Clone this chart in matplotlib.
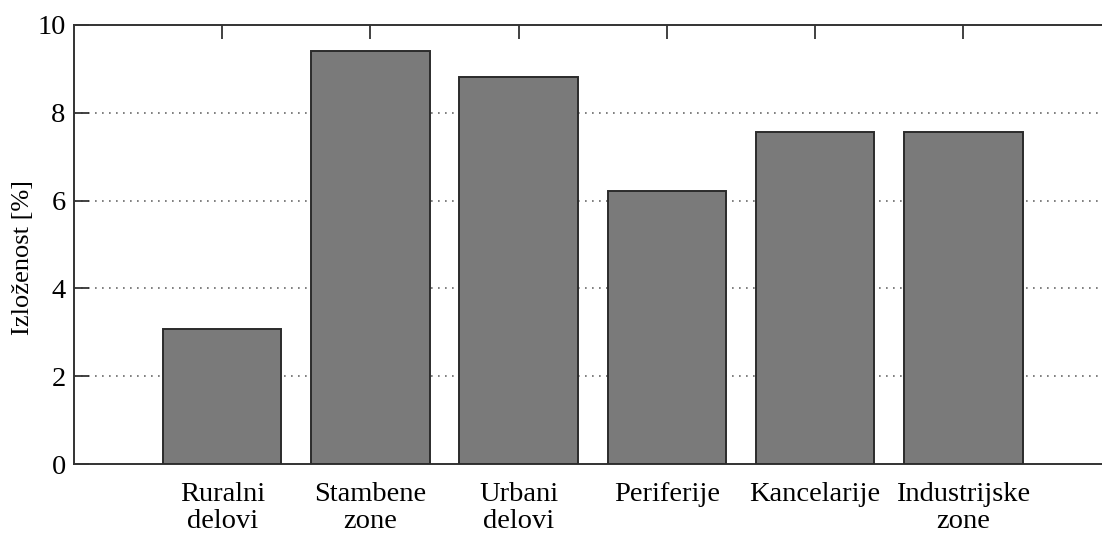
import numpy as np
import matplotlib
matplotlib.use("Agg")
import matplotlib.pyplot as plt

# podaci
kategorije = ["Ruralni\ndelovi", "Stambene\nzone", "Urbani\ndelovi",
              "Periferije", "Kancelarije", "Industrijske\nzone"]
vrednosti = [3.08, 9.41, 8.81, 6.22, 7.56, 7.56]
y_ticks = [0, 2, 4, 6, 8, 10]

plt.rcParams['font.family'] = ['Liberation Serif', 'DejaVu Serif']

fig = plt.figure(figsize=(11.02, 5.35), dpi=100)
# desna ivica ose izlazi malo van slike (kao u originalu)
ax = fig.add_axes([74/1102, (535-464)/535, (1111.5-74)/1102, (464-25)/535])

x = np.arange(1, len(vrednosti)+1)
ax.bar(x, vrednosti, width=0.8, color='#7a7a7a', edgecolor='#2b2b2b',
       linewidth=1.4, zorder=3)

ax.set_xlim(0, 7)
ax.set_ylim(0, 10)
ax.set_yticks(y_ticks)
ax.set_yticklabels([str(v) for v in y_ticks], fontsize=20.5)
ax.set_xticks(x)
ax.set_xticklabels(kategorije, fontsize=20.5, linespacing=1.1)

# mreza
for v in y_ticks[1:-1]:
    ax.axhline(v, color='#6a6a6a', linestyle=(0, (1, 3.2)), linewidth=1.2, zorder=1)

ax.tick_params(axis='y', direction='in', length=11, width=1.3, color='#333333',
               left=True, right=False, pad=6)
ax.tick_params(axis='x', direction='in', length=10, width=1.3, color='#333333',
               top=True, bottom=False, pad=13)

for s in ['left', 'bottom', 'top']:
    ax.spines[s].set_linewidth(1.4)
    ax.spines[s].set_color('#333333')
ax.spines['right'].set_visible(False)

ax.set_ylabel("Izloženost [%]", fontsize=19)
ax.yaxis.set_label_coords(-0.039, 0.47)

fig.savefig("out.png", dpi=100)
